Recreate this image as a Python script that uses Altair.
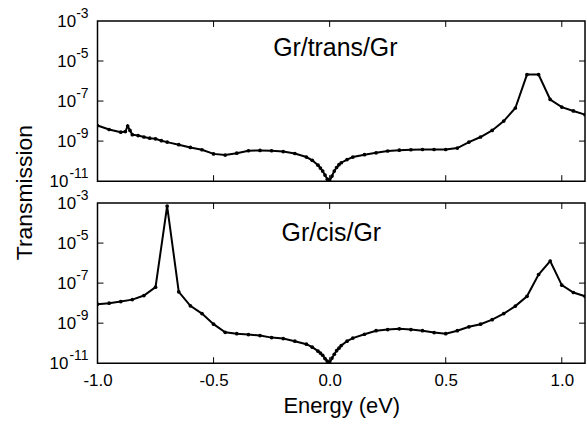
import altair as alt
import pandas as pd

# ---- data ----
energy_trans = [-1.0, -0.95, -0.9, -0.88, -0.87, -0.86, -0.85, -0.825, -0.8, -0.775, -0.75, -0.725,
                -0.7, -0.65, -0.6, -0.55, -0.5, -0.45, -0.4, -0.35, -0.3, -0.25, -0.2, -0.15,
                -0.1, -0.075, -0.05, -0.04, -0.03, -0.02, -0.01, 0.0, 0.01, 0.02, 0.03, 0.04,
                0.05, 0.075, 0.1, 0.15, 0.2, 0.25, 0.3, 0.35, 0.4, 0.45, 0.5, 0.55, 0.6, 0.65,
                0.7, 0.75, 0.8, 0.85, 0.9, 0.95, 1.0, 1.05, 1.1]
trans_T = [6.0e-9, 3.8e-9, 2.8e-9, 3.0e-9, 5.6e-9, 3.4e-9, 2.1e-9, 1.9e-9, 1.6e-9, 1.4e-9, 1.3e-9, 1.05e-9,
           8.9e-10, 6.6e-10, 4.8e-10, 3.7e-10, 2.3e-10, 2.0e-10, 2.5e-10, 3.3e-10, 3.4e-10, 3.3e-10, 3.0e-10, 2.4e-10,
           1.6e-10, 1.1e-10, 6.3e-11, 4.5e-11, 3.2e-11, 2.0e-11, 1.26e-11, 1.0e-11, 1.8e-11, 3.2e-11, 4.8e-11, 6.6e-11,
           8.3e-11, 1.2e-10, 1.6e-10, 2.1e-10, 2.6e-10, 3.2e-10, 3.5e-10, 3.7e-10, 3.8e-10, 3.8e-10, 3.8e-10, 4.5e-10, 8.9e-10, 1.6e-9,
           3.4e-9, 1.0e-8, 4.5e-8, 2.1e-6, 2.1e-6, 1.2e-7, 5.0e-8, 3.2e-8, 2.1e-8]

energy_cis = [-1.0, -0.95, -0.9, -0.85, -0.8, -0.75, -0.7, -0.65, -0.6, -0.55, -0.5, -0.45,
              -0.4, -0.35, -0.3, -0.25, -0.2, -0.15, -0.1, -0.075, -0.05, -0.04, -0.03, -0.02,
              -0.01, 0.0, 0.01, 0.02, 0.03, 0.04, 0.05, 0.075, 0.1, 0.15, 0.2, 0.25, 0.3, 0.35,
              0.4, 0.45, 0.5, 0.55, 0.6, 0.65, 0.7, 0.75, 0.8, 0.85, 0.9, 0.95, 1.0, 1.05, 1.1]
cis_T = [8.9e-9, 1.0e-8, 1.2e-8, 1.5e-8, 2.4e-8, 6.3e-8, 7.1e-4, 3.7e-8, 7.4e-9, 3.0e-9, 8.9e-10, 3.5e-10,
         3.0e-10, 2.7e-10, 2.4e-10, 1.9e-10, 1.7e-10, 1.26e-10, 8.9e-11, 6.3e-11, 4.0e-11, 3.2e-11, 2.5e-11, 1.7e-11,
         1.26e-11, 1.0e-11, 1.8e-11, 2.8e-11, 4.2e-11, 5.6e-11, 7.6e-11, 1.26e-10, 1.8e-10, 2.8e-10, 4.2e-10, 4.8e-10, 5.2e-10, 4.8e-10,
         4.2e-10, 3.4e-10, 3.0e-10, 4.2e-10, 6.6e-10, 8.9e-10, 1.5e-9, 3.0e-9, 7.1e-9, 2.2e-8, 2.7e-7, 1.26e-6, 7.9e-8, 3.4e-8, 2.2e-8]

x_ticks = [-1.0, -0.5, 0.0, 0.5, 1.0]
x_inner_ticks = [-0.5, 0.0, 0.5, 1.0]
y_tick_values = [1e-3, 1e-5, 1e-7, 1e-9, 1e-11]
y_tick_exps = ["-3", "-5", "-7", "-9", "-11"]
y_inner_ticks = [1e-5, 1e-7, 1e-9]

W, H = 490, 161
FONT = "Liberation Sans"

xscale = alt.Scale(domain=[-1.0, 1.1], nice=False, zero=False)
yscale = alt.Scale(type="log", domain=[1e-11, 1e-3], nice=False)


def panel(E, T, label, label_xy, bottom, top):
    df = pd.DataFrame({"E": E, "T": T})
    if bottom:
        xaxis = alt.Axis(values=x_ticks, ticks=False, domain=False, grid=False,
                         labelExpr="datum.value < 0 ? '-' + format(-datum.value, '.1f') : format(datum.value, '.1f')",
                         labelFontSize=17, labelFont=FONT, labelColor="black", labelPadding=9,
                         labelOverlap=False, labelBound=False, labelFlush=False,
                         title="Energy (eV)", titleFont=FONT, titleFontSize=22,
                         titleFontWeight="normal", titleColor="black", titlePadding=8)
    else:
        xaxis = alt.Axis(values=x_ticks, labels=False, ticks=False, domain=False, grid=False, title=None)
    if top:
        yaxis = alt.Axis(labels=False, ticks=False, domain=False, grid=False,
                         title="Transmission", titleFont=FONT, titleFontSize=23,
                         titleFontWeight="normal", titleColor="black",
                         titleX=-73, titleY=H + 11, titleAngle=270,
                         titleAlign="center", titleBaseline="middle")
    else:
        yaxis = alt.Axis(labels=False, ticks=False, domain=False, grid=False, title=None)

    base = alt.Chart(df).encode(
        x=alt.X("E:Q", scale=xscale, axis=xaxis),
        y=alt.Y("T:Q", scale=yscale, axis=yaxis),
    )
    line = base.mark_line(color="black", strokeWidth=2, clip=True)
    pts = base.mark_circle(color="black", size=14, opacity=1, clip=True)

    xt = pd.DataFrame({"E": x_inner_ticks})
    tick_b = alt.Chart(xt).mark_rule(color="black", strokeWidth=1).encode(
        x="E:Q", y=alt.value(H), y2=alt.value(H - 6))
    tick_t = alt.Chart(xt).mark_rule(color="black", strokeWidth=1).encode(
        x="E:Q", y=alt.value(0), y2=alt.value(6))
    yt = pd.DataFrame({"T": y_inner_ticks})
    tick_l = alt.Chart(yt).mark_rule(color="black", strokeWidth=1).encode(
        y="T:Q", x=alt.value(0), x2=alt.value(6))
    tick_r = alt.Chart(yt).mark_rule(color="black", strokeWidth=1).encode(
        y="T:Q", x=alt.value(W - 6), x2=alt.value(W))

    ylab = pd.DataFrame({"T": y_tick_values, "exp": y_tick_exps})
    exp_txt = alt.Chart(ylab).mark_text(align="right", baseline="middle", font=FONT,
                                         fontSize=14, dy=-7, color="black").encode(
        y="T:Q", x=alt.value(-9), text="exp:N")
    base_txt = alt.Chart(ylab).transform_calculate(
        xo="-9 - 4.7 - 7.8*(length(datum.exp) - 1)"
    ).mark_text(align="right", baseline="middle", font=FONT, fontSize=17, dy=1,
                color="black").encode(
        y="T:Q", x=alt.X("xo:Q", scale=None), text=alt.value("10"))

    lab = alt.Chart(pd.DataFrame({"label": [label]})).mark_text(
        font=FONT, fontSize=25, align="center", baseline="middle", color="black").encode(
        x=alt.value(label_xy[0]), y=alt.value(label_xy[1]), text="label:N")

    return alt.layer(line, pts, tick_b, tick_t, tick_l, tick_r, exp_txt, base_txt, lab).properties(
        width=W, height=H)


top_panel = panel(energy_trans, trans_T, "Gr/trans/Gr", (239, 27), bottom=False, top=True)
bottom_panel = panel(energy_cis, cis_T, "Gr/cis/Gr", (235, 30), bottom=True, top=False)

chart = alt.vconcat(top_panel, bottom_panel, spacing=22, bounds="flush").properties(
    padding={"left": 13, "top": 5, "right": 0, "bottom": 0},
    background="white",
).configure_view(stroke="black", strokeWidth=1.5)

chart.save("out.html", embed_options={"renderer": "svg", "actions": False})
